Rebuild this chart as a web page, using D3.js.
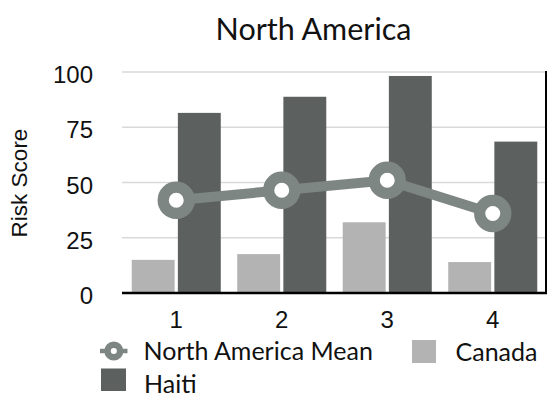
<!DOCTYPE html>
<html><head><meta charset="utf-8">
<script src="https://cdn.jsdelivr.net/npm/d3@7"></script>
<style>body{margin:0;background:#fff}svg{display:block}</style>
</head><body>
<svg id="c" width="556" height="403"></svg>
<script>
const categories = ["1","2","3","4"];
const seriesNames = ["Canada","Haiti"];
const canada = [15, 17.6, 32, 14];
const haiti = [81.5, 88.8, 98.2, 68.5];
const meanValues = [42, 46.5, 51, 36];
const meanName = "North America Mean";
const yTicks = [0, 25, 50, 75, 100];
const title = "North America";
const yLabel = "Risk Score";

const colors = {Canada:"#b3b3b3", Haiti:"#5c605e", mean:"#7e8683"};
const svg = d3.select("#c");
const L = 122, R = 546, T = 72, B = 293;
const x = d3.scaleBand().domain(categories).range([123.5, 545.5]).paddingInner(0.156).paddingOuter(0.078);
const xs = d3.scaleBand().domain(seriesNames).range([0, x.bandwidth()]).paddingInner(0.07);
const y = d3.scaleLinear().domain([0,100]).range([B, T]);
const gothic = "Lato, 'Gill Sans', sans-serif";
const helv = "Arial, 'Liberation Sans', Helvetica, sans-serif";

// gridlines
svg.append("g").selectAll("line").data(yTicks.filter(d=>d>0)).join("line")
  .attr("x1", L).attr("x2", R).attr("y1", d=>y(d)).attr("y2", d=>y(d))
  .attr("stroke", "#d9d9d9").attr("stroke-width", 1.5);

// bars
const data = categories.map((c,i)=>({cat:c, Canada:canada[i], Haiti:haiti[i]}));
svg.append("g").selectAll("g").data(data).join("g")
  .attr("transform", d=>`translate(${x(d.cat)},0)`)
  .selectAll("rect").data(d=>seriesNames.map(s=>({s, v:d[s]}))).join("rect")
  .attr("x", d=>xs(d.s)).attr("width", xs.bandwidth())
  .attr("y", d=>y(d.v)).attr("height", d=>B - y(d.v))
  .attr("fill", d=>colors[d.s]);

// axes
const yAxis = d3.axisLeft(y).tickValues(yTicks).tickSize(0).tickPadding(29);
const gy = svg.append("g").attr("transform", `translate(${L},0)`).call(yAxis);
gy.select(".domain").remove();
gy.attr("font-family", helv).attr("font-size", 24);
gy.selectAll("text").attr("fill","#111").attr("dy", "10.5px");

const xAxis = d3.axisBottom(x).tickSize(0).tickPadding(0);
const gx = svg.append("g").attr("transform", `translate(0,${B})`).call(xAxis);
gx.select(".domain").remove();
gx.attr("font-family", helv).attr("font-size", 24);
gx.selectAll("text").attr("fill","#111").attr("dy", null).attr("y", 35);

svg.append("line").attr("x1", L).attr("x2", R+1).attr("y1", B).attr("y2", B).attr("stroke","#000").attr("stroke-width", 2.5);
svg.append("line").attr("x1", R).attr("x2", R).attr("y1", T-1).attr("y2", B).attr("stroke","#000").attr("stroke-width", 2);

// mean line
const line = d3.line().x((d,i)=>x(categories[i]) + x.bandwidth()/2).y(d=>y(d));
svg.append("path").datum(meanValues).attr("d", line).attr("fill","none")
  .attr("stroke", colors.mean).attr("stroke-width", 10);
svg.append("g").selectAll("circle").data(meanValues).join("circle")
  .attr("cx", (d,i)=>x(categories[i]) + x.bandwidth()/2).attr("cy", d=>y(d))
  .attr("r", 13.1).attr("fill","#fff").attr("stroke", colors.mean).attr("stroke-width", 11.2);

// title
svg.append("text").attr("x", 313.5).attr("y", 39.5).attr("text-anchor","middle")
  .attr("font-family", gothic).attr("font-size", 30.5).attr("fill","#111").text(title);
// y label
svg.append("text").attr("transform", "translate(27,183) rotate(-90)").attr("text-anchor","middle")
  .attr("font-family", helv).attr("font-size", 22.5).attr("fill","#111").text(yLabel);

// legend
const lg = svg.append("g");
lg.append("line").attr("x1", 100).attr("x2", 127.5).attr("y1", 351).attr("y2", 351).attr("stroke", colors.mean).attr("stroke-width", 4.5);
lg.append("circle").attr("cx", 113.8).attr("cy", 351).attr("r", 6.3).attr("fill","#fff").attr("stroke", colors.mean).attr("stroke-width", 6.5);
lg.append("text").attr("x", 143.5).attr("y", 360).attr("font-family", gothic).attr("font-size", 25).attr("fill","#111").text(meanName);
lg.append("rect").attr("x", 412).attr("y", 340).attr("width", 24).attr("height", 23).attr("fill", colors.Canada);
lg.append("text").attr("x", 455.5).attr("y", 361).attr("font-family", gothic).attr("font-size", 25).attr("fill","#111").text(seriesNames[0]);
lg.append("rect").attr("x", 101).attr("y", 368.5).attr("width", 25).attr("height", 22.5).attr("fill", colors.Haiti);
lg.append("text").attr("x", 144).attr("y", 393).attr("font-family", gothic).attr("font-size", 25).attr("fill","#111").text(seriesNames[1]);
</script>
</body></html>
